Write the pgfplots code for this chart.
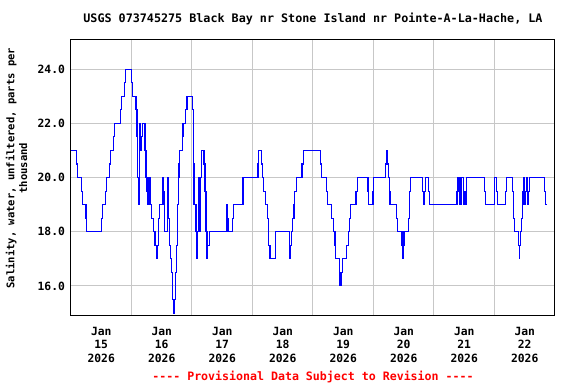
\documentclass[border=0pt]{standalone}
\usepackage{fontspec}
\setmainfont{DejaVu Sans Mono}[Ligatures=TeXOff]
\usepackage{pgfplots}
\pgfplotsset{compat=1.18}
\begin{document}
\begin{tikzpicture}
\path[use as bounding box] (-53.25pt,-51.2pt) rectangle (378.75pt,236.8pt);
\begin{axis}[
  at={(0,0)}, anchor=south west,
  scale only axis, width=363pt, height=207.3pt,
  xmin=0, xmax=8, ymin=14.9, ymax=25.1,
  xtick={0.5,1.5,2.5,3.5,4.5,5.5,6.5,7.5},
  xticklabels={{Jan\\15\\2026},{Jan\\16\\2026},{Jan\\17\\2026},{Jan\\18\\2026},{Jan\\19\\2026},{Jan\\20\\2026},{Jan\\21\\2026},{Jan\\22\\2026}},
  minor xtick={1,2,3,4,5,6,7},
  xminorgrids=true, xmajorgrids=false,
  ytick={16,18,20,22,24},
  ymajorgrids=true,
  yticklabel={\pgfmathprintnumber[fixed,fixed zerofill,precision=1,assume math mode=true]{\tick}},
  grid style={color=black!22, line width=0.75pt},
  major tick length=0pt, minor tick length=0pt,
  axis line style={line width=0.75pt},
  tick label style={font=\fontsize{8.5}{10.1}\selectfont\bfseries},
  xticklabel style={align=center, yshift=-5pt},
  yticklabel style={xshift=-1pt},
  clip mode=individual,
]
\addplot[const plot, color=blue, line width=0.8pt] coordinates {
(0.000,21) (0.088,20.5) (0.104,20) (0.170,19.5) (0.187,19) (0.248,18.5) (0.260,18)
(0.501,18.5) (0.517,19) (0.567,19.5) (0.583,20) (0.633,20.5) (0.650,21) (0.699,21.5)
(0.716,22) (0.815,22.5) (0.831,23) (0.881,23.5) (0.898,24) (0.997,23.5) (1.013,23)
(1.074,22.5) (1.091,21.5) (1.102,20) (1.119,19) (1.129,20.5) (1.140,22) (1.152,21)
(1.162,21.5) (1.179,22) (1.223,21) (1.240,20) (1.256,19.5) (1.273,19) (1.289,20)
(1.306,19) (1.334,18.5) (1.360,18) (1.388,17.5) (1.410,17) (1.426,17.5) (1.443,18.5)
(1.460,19) (1.521,20) (1.532,19.5) (1.542,18.5) (1.549,18) (1.592,19) (1.603,20)
(1.615,18.5) (1.631,17.5) (1.648,17) (1.658,16.5) (1.681,15.5) (1.698,15) (1.714,15.5)
(1.731,16.5) (1.747,17.5) (1.757,19) (1.774,20) (1.785,20.5) (1.797,21) (1.840,21.5)
(1.851,22) (1.893,22.5) (1.917,23) (2.012,22.5) (2.021,20.5) (2.033,19) (2.066,18)
(2.074,17) (2.088,18) (2.104,20) (2.116,19) (2.124,18) (2.137,20) (2.154,21)
(2.198,20.5) (2.215,19.5) (2.231,18) (2.248,17) (2.264,17.5) (2.286,18) (2.567,19)
(2.579,18.5) (2.595,18) (2.673,18.5) (2.683,19) (2.843,20) (3.091,20.5) (3.107,21)
(3.152,20.5) (3.169,20) (3.185,19.5) (3.212,19) (3.245,18.5) (3.268,17.5) (3.289,17)
(3.377,17.5) (3.388,18) (3.615,17) (3.631,17.5) (3.648,18) (3.669,18.5) (3.686,19)
(3.702,19.5) (3.724,20) (3.818,20.5) (3.840,21) (4.127,20.5) (4.144,20) (4.226,19.5)
(4.243,19) (4.309,18.5) (4.336,18) (4.364,17.5) (4.375,17) (4.435,16.5) (4.446,16)
(4.474,16.5) (4.491,17) (4.557,17.5) (4.583,18) (4.600,18.5) (4.617,19) (4.711,19.5)
(4.732,20) (4.909,19.5) (4.921,19) (4.992,19.5) (5.003,20) (5.195,20.5) (5.218,21)
(5.235,20.5) (5.245,20) (5.261,19.5) (5.273,19) (5.383,18.5) (5.393,18) (5.471,17.5)
(5.476,17) (5.493,17.5) (5.504,18) (5.582,18.5) (5.592,19.5) (5.608,20) (5.813,19.5)
(5.823,19) (5.840,19.5) (5.856,20) (5.906,19.5) (5.922,19) (6.380,19.5) (6.397,20)
(6.413,19.5) (6.418,19) (6.430,20) (6.441,19.5) (6.446,19) (6.451,20) (6.484,19.5)
(6.496,19) (6.507,19.5) (6.517,19) (6.529,19.5) (6.540,20) (6.831,19.5) (6.848,19)
(7.003,20) (7.033,19.5) (7.046,19) (7.179,19.5) (7.195,20) (7.294,19.5) (7.311,18.5)
(7.327,18) (7.400,17.5) (7.410,17) (7.417,17.5) (7.426,18) (7.443,18.5) (7.460,19)
(7.471,19.5) (7.488,20) (7.499,19) (7.512,19.5) (7.529,20) (7.542,19) (7.559,19.5)
(7.582,20) (7.830,19.5) (7.840,19) (7.863,19)
};
\node[font=\fontsize{8.8}{10}\selectfont\bfseries] at (axis description cs:0.5,1.073)
  {USGS 073745275 Black Bay nr Stone Island nr Pointe-A-La-Hache, LA};
\node[font=\fontsize{8.7}{10}\selectfont\bfseries, text=red] at (axis description cs:0.5,-0.222)
  {---- Provisional Data Subject to Revision ----};
\node[font=\fontsize{7.9}{9.6}\selectfont\bfseries, rotate=90, align=center] at (axis description cs:-0.1126,0.534)
  {Salinity, water, unfiltered, parts per\\thousand};
\end{axis}
\end{tikzpicture}
\end{document}
